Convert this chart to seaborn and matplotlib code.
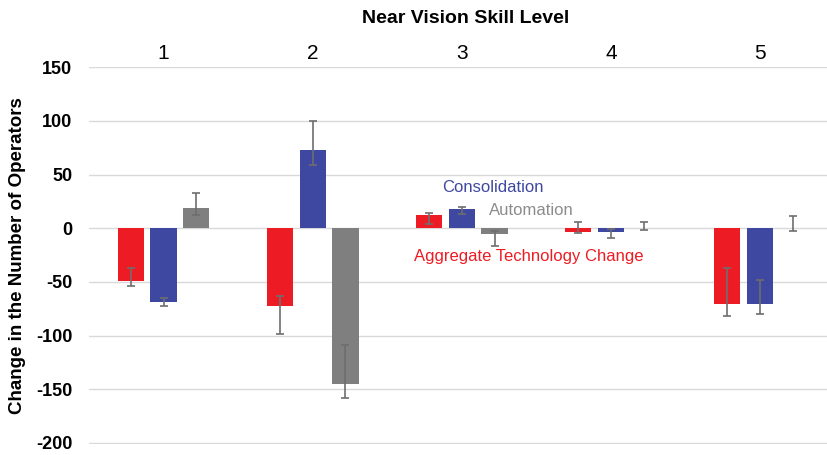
"""Change in operator counts by near vision skill level."""

import matplotlib

matplotlib.use("Agg")
import matplotlib.pyplot as plt
import numpy as np
import pandas as pd
import seaborn as sns


SKILL_LEVELS = ["1", "2", "3", "4", "5"]
SERIES = ["Aggregate Technology Change", "Consolidation", "Automation"]

aggregate = [-49, -72, 12.5, -3.5, -71]
aggregate_low = [-54, -98.5, 4, -4.5, -82]
aggregate_high = [-37, -63, 14, 5.5, -37]

consolidation = [-69, 73, 18, -3.5, -71]
consolidation_low = [-72, 59, 13.5, -9, -80]
consolidation_high = [-65, 100, 19.5, -1, -48]

automation = [19, -145, -5, 0, 0]
automation_low = [12, -158, -16.7, -1.5, -3]
automation_high = [33, -109, -3, 5.5, 11.5]

Y_TICKS = [-200, -150, -100, -50, 0, 50, 100, 150]

COLORS = {
    "Aggregate Technology Change": "#ed1c24",
    "Consolidation": "#3f48a0",
    "Automation": "#7f7f7f",
}


def build_frame() -> pd.DataFrame:
    """Long table of bar values for seaborn."""
    values = [aggregate, consolidation, automation]
    rows = []
    for name, series in zip(SERIES, values):
        for level, value in zip(SKILL_LEVELS, series):
            rows.append({"level": level, "series": name, "change": value})
    return pd.DataFrame(rows)


def main() -> None:
    sns.set_theme(style="white")
    plt.rcParams["font.family"] = ["Liberation Sans", "DejaVu Sans"]
    plt.rcParams["text.color"] = "black"
    plt.rcParams["axes.labelcolor"] = "black"
    plt.rcParams["xtick.color"] = "black"
    plt.rcParams["ytick.color"] = "black"

    data = build_frame()
    fig = plt.figure(figsize=(8.27, 4.55), dpi=100)
    ax = fig.add_axes([0.1076, 0.0242, 0.8924, 0.8292])

    sns.barplot(
        data=data,
        x="level",
        y="change",
        hue="series",
        hue_order=SERIES,
        order=SKILL_LEVELS,
        palette=COLORS,
        saturation=1,
        width=0.66,
        gap=0.2,
        linewidth=0,
        errorbar=None,
        legend=False,
        ax=ax,
        zorder=2,
    )

    # asymmetric error bars, placed on the seaborn bar centres
    lows = [aggregate_low, consolidation_low, automation_low]
    highs = [aggregate_high, consolidation_high, automation_high]
    vals = [aggregate, consolidation, automation]
    for container, val, low, high in zip(ax.containers, vals, lows, highs):
        xs = [p.get_x() + p.get_width() / 2 for p in container.patches]
        val = np.array(val)
        yerr = [val - np.array(low), np.array(high) - val]
        ax.errorbar(
            xs,
            val,
            yerr=yerr,
            fmt="none",
            ecolor="#6e6e6e",
            elinewidth=1.2,
            capsize=3,
            capthick=1.2,
            zorder=3,
        )

    ax.set_ylim(-201, 150.5)
    ax.set_yticks(Y_TICKS)
    ax.set_yticklabels([str(t) for t in Y_TICKS], fontsize=13, fontweight="bold")
    ax.set_xlim(-0.5, 4.45)
    ax.yaxis.grid(True, color="#d9d9d9", linewidth=1)
    ax.set_axisbelow(True)
    for spine in ax.spines.values():
        spine.set_visible(False)

    ax.tick_params(axis="y", length=0, pad=12)
    ax.tick_params(
        axis="x", length=0, pad=3, labelsize=15,
        top=True, labeltop=True, bottom=False, labelbottom=False,
    )
    ax.xaxis.set_label_position("top")
    ax.set_xlabel("Near Vision Skill Level", fontsize=14, fontweight="bold")
    ax.xaxis.set_label_coords(0.51, 1.115)
    ax.set_ylabel("Change in the Number of Operators", fontsize=13.5, fontweight="bold")
    ax.yaxis.set_label_coords(-0.085, 0.5)

    ax.text(1.866, 37.7, "Consolidation", color=COLORS["Consolidation"],
            fontsize=12, va="center", ha="left")
    ax.text(2.181, 16.4, "Automation", color="#8c8c8c",
            fontsize=12, va="center", ha="left")
    ax.text(1.678, -26.2, "Aggregate Technology Change",
            color=COLORS["Aggregate Technology Change"],
            fontsize=12, va="center", ha="left")

    fig.savefig("out.png", dpi=100)
    plt.close(fig)


if __name__ == "__main__":
    main()
